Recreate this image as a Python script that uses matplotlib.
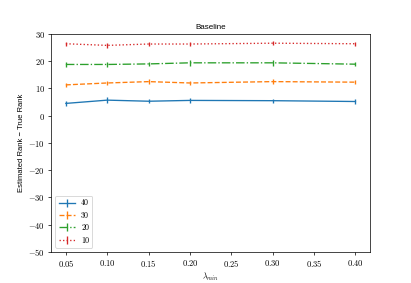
import matplotlib
matplotlib.use('Agg')
import matplotlib.pyplot as plt

plt.rcParams['font.family'] = 'serif'
plt.rcParams['font.serif'] = ['cmr10']
plt.rcParams['font.size'] = 9.5
plt.rcParams['mathtext.fontset'] = 'cm'
plt.rcParams['axes.formatter.use_mathtext'] = True

# lambda_min values
lam = [0.05, 0.10, 0.15, 0.20, 0.30, 0.40]

# estimated rank minus true rank, per true rank
diff_40 = [4.5, 5.7, 5.3, 5.6, 5.5, 5.2]
diff_30 = [11.3, 12.0, 12.5, 12.0, 12.5, 12.3]
diff_20 = [18.8, 18.8, 19.0, 19.4, 19.4, 18.9]
diff_10 = [26.4, 25.8, 26.3, 26.3, 26.6, 26.4]

err_40 = [1.0, 1.0, 0.8, 1.0, 0.8, 0.8]
err_30 = [0.8, 0.8, 0.8, 0.8, 0.8, 0.8]
err_20 = [0.8, 0.8, 0.8, 1.0, 1.0, 0.8]
err_10 = [0.8, 0.8, 0.8, 0.8, 0.8, 0.8]

labels = ['40', '30', '20', '10']
series = [diff_40, diff_30, diff_20, diff_10]
errors = [err_40, err_30, err_20, err_10]
styles = ['-', '--', '-.', ':']

fig = plt.figure(figsize=(6.4, 4.407), dpi=64.22)
ax = fig.add_subplot(111)

for y, e, ls, lab in zip(series, errors, styles, labels):
    ax.errorbar(lam, y, yerr=e, linestyle=ls, label=lab)

sans = ['Liberation Sans', 'DejaVu Sans']
ax.set_ylim(-50, 30)
ax.set_title('Baseline', family=sans, fontsize=9)
ax.set_xlabel(r'$\lambda_{min}$', fontsize=9, labelpad=1.5)
ax.set_ylabel('Estimated Rank \u2212 True Rank', family=sans, fontsize=8.5)
ax.legend(loc='lower left', fontsize=9)

plt.savefig('out.png', dpi=64.22)
